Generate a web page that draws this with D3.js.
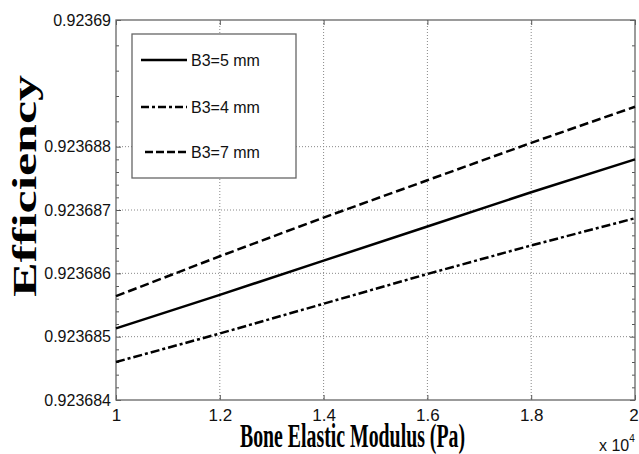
<!DOCTYPE html>
<html>
<meta charset="utf-8">
<head>
<script src="https://d3js.org/d3.v7.min.js"></script>
<style>
  body { margin: 0; background: #fff; }
  svg { display: block; }
  .tick text { fill: #111; font-family: Arial, "Liberation Sans", sans-serif; }
  .grid line { stroke: #888; stroke-width: 1; stroke-dasharray: 1,2; }
  .box { fill: none; stroke: #666; stroke-width: 1.3; }
</style>
</head>
<body>
<div id="chart"></div>
<script>
// modulus (x 10^4 Pa)
var modulus = [1, 1.2, 1.4, 1.6, 1.8, 2];
// efficiency for each B3
var effB3_5 = [0.92368513, 0.92368566, 0.92368620, 0.92368674, 0.92368728, 0.92368780];
var effB3_4 = [0.92368460, 0.92368505, 0.92368552, 0.92368599, 0.92368644, 0.92368687];
var effB3_7 = [0.92368564, 0.92368627, 0.92368688, 0.92368747, 0.92368806, 0.92368863];

var seriesNames = ["B3=5 mm", "B3=4 mm", "B3=7 mm"];
var xTickLabels = ["1", "1.2", "1.4", "1.6", "1.8", "2"];
var yTickValues = [0.923684, 0.923685, 0.923686, 0.923687, 0.923688, 0.92369];
var yTickLabels = ["0.923684", "0.923685", "0.923686", "0.923687", "0.923688", "0.92369"];

var width = 639, height = 454;
var mLeft = 116, mRight = 635, mTop = 20, mBottom = 400;

var svg = d3.select("#chart").append("svg")
    .attr("width", width)
    .attr("height", height);

var x = d3.scaleLinear().domain([1, 2]).range([mLeft, mRight]);
var y = d3.scaleLinear().domain([0.923684, 0.92369]).range([mBottom, mTop]);

// dotted grid
svg.append("g").attr("class", "grid")
  .selectAll("line").data(modulus.slice(1, -1)).enter().append("line")
    .attr("x1", function(d) { return x(d); }).attr("x2", function(d) { return x(d); })
    .attr("y1", mTop).attr("y2", mBottom);
svg.append("g").attr("class", "grid")
  .selectAll("line").data(yTickValues.slice(1, -1)).enter().append("line")
    .attr("x1", mLeft).attr("x2", mRight)
    .attr("y1", function(d) { return y(d); }).attr("y2", function(d) { return y(d); });

// minor ticks on y (5 subdivisions)
var yMinor = [];
for (var i = 0; i < yTickValues.length - 1; i++) {
  for (var k = 1; k < 5; k++) yMinor.push(yTickValues[i] + (yTickValues[i + 1] - yTickValues[i]) * k / 5);
}

function styleAxis(g) {
  g.select(".domain").remove();
  g.selectAll(".tick line").attr("stroke", "#555").attr("stroke-width", 1);
}

var xAxisG = svg.append("g").attr("transform", "translate(0," + mBottom + ")")
  .call(d3.axisBottom(x).tickValues(modulus).tickSizeInner(-5).tickSizeOuter(0).tickPadding(9)
    .tickFormat(function(d, i) { return xTickLabels[i]; }))
  .call(styleAxis);
xAxisG.selectAll("text").attr("font-size", 17)
  .attr("dx", function(d, i) { return i === modulus.length - 1 ? -1.5 : 0; });

svg.append("g").attr("transform", "translate(0," + mTop + ")")
  .call(d3.axisTop(x).tickValues(modulus).tickSizeInner(-5).tickSizeOuter(0).tickFormat(""))
  .call(styleAxis);

svg.append("g").attr("transform", "translate(" + mLeft + ",0)")
  .call(d3.axisLeft(y).tickValues(yTickValues).tickSizeInner(-5).tickSizeOuter(0).tickPadding(5)
    .tickFormat(function(d, i) { return yTickLabels[i]; }))
  .call(styleAxis)
  .selectAll("text").attr("font-size", 16);

svg.append("g").attr("transform", "translate(" + mRight + ",0)")
  .call(d3.axisRight(y).tickValues(yTickValues).tickSizeInner(-5).tickSizeOuter(0).tickFormat(""))
  .call(styleAxis);

svg.append("g").attr("transform", "translate(" + mLeft + ",0)")
  .call(d3.axisLeft(y).tickValues(yMinor).tickSizeInner(-3).tickSizeOuter(0).tickFormat(""))
  .call(styleAxis);
svg.append("g").attr("transform", "translate(" + mRight + ",0)")
  .call(d3.axisRight(y).tickValues(yMinor).tickSizeInner(-3).tickSizeOuter(0).tickFormat(""))
  .call(styleAxis);

// plot box
svg.append("rect").attr("class", "box")
  .attr("x", mLeft).attr("y", mTop)
  .attr("width", mRight - mLeft).attr("height", mBottom - mTop);

// lines
var dashes = ["none", "9,3,3,3", "9,4"];
var legDashes = ["none", "8,3,3,3", "8,3"];
var allSeries = [effB3_5, effB3_4, effB3_7];
var line = d3.line()
  .x(function(d, i) { return x(modulus[i]); })
  .y(function(d) { return y(d); });

svg.selectAll(".series").data(allSeries).enter().append("path")
  .attr("class", "series")
  .attr("d", line)
  .attr("fill", "none")
  .attr("stroke", "#000")
  .attr("stroke-width", 2.5)
  .attr("stroke-dasharray", function(d, i) { return dashes[i]; });

// legend
var legend = svg.append("g");
legend.append("rect")
  .attr("x", 132).attr("y", 34).attr("width", 164).attr("height", 144)
  .attr("fill", "#fff").attr("stroke", "#666").attr("stroke-width", 1.3);
var legY = [60, 107, 152];
var legX0 = [141, 141, 145];
legend.selectAll(".legline").data(seriesNames).enter().append("line")
  .attr("x1", function(d, i) { return legX0[i]; }).attr("x2", 187)
  .attr("y1", function(d, i) { return legY[i]; }).attr("y2", function(d, i) { return legY[i]; })
  .attr("stroke", "#000").attr("stroke-width", 2.5)
  .attr("stroke-dasharray", function(d, i) { return legDashes[i]; });
legend.selectAll(".legtext").data(seriesNames).enter().append("text")
  .attr("x", 191)
  .attr("y", function(d, i) { return legY[i] + 6; })
  .attr("font-family", "Arial, 'Liberation Sans', sans-serif")
  .attr("font-size", 16)
  .attr("fill", "#111")
  .text(function(d) { return d; });

// axis titles
svg.append("text")
  .attr("transform", "translate(36,186) rotate(-90)")
  .attr("text-anchor", "middle")
  .attr("font-family", "'Liberation Serif', 'Times New Roman', serif")
  .attr("font-weight", "bold")
  .attr("font-size", 34)
  .attr("textLength", 222)
  .attr("lengthAdjust", "spacingAndGlyphs")
  .text("Efficiency");

svg.append("text")
  .attr("x", 240).attr("y", 447)
  .attr("font-family", "'Liberation Serif', 'Times New Roman', serif")
  .attr("font-weight", "bold")
  .attr("font-size", 34)
  .attr("textLength", 225)
  .attr("lengthAdjust", "spacingAndGlyphs")
  .text("Bone Elastic Modulus (Pa)");

// exponent
var expo = svg.append("text")
  .attr("x", 599).attr("y", 451)
  .attr("font-family", "Arial, 'Liberation Sans', sans-serif")
  .attr("font-size", 16)
  .attr("fill", "#111");
expo.append("tspan").text("x 10");
expo.append("tspan").attr("font-size", 10).attr("dy", -9).text("4");
</script>
</body>
</html>
